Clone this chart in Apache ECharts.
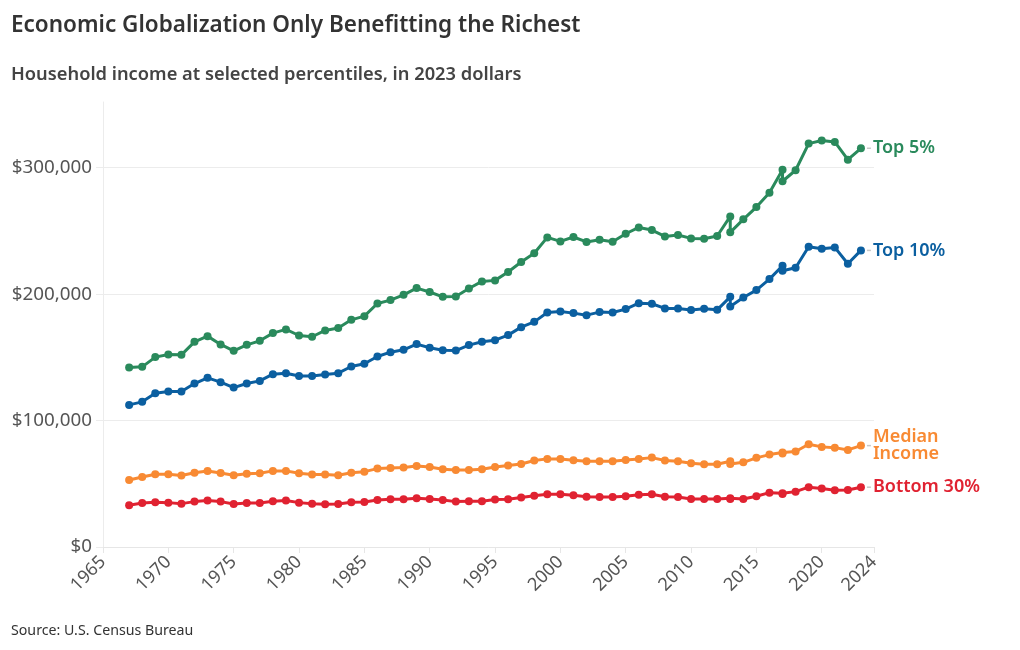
<!DOCTYPE html>
<html>
<head>
<meta charset="utf-8">
<script src="https://cdn.jsdelivr.net/npm/echarts@6/dist/echarts.min.js"></script>
<style>
  html, body { margin: 0; padding: 0; background: #fff; }
  #chart { width: 1020px; height: 650px; }
</style>
</head>
<body>
<div id="chart"></div>
<script>
// Years (2013 and 2017 appear twice: survey/processing changes)
const years = [1967, 1968, 1969,
  1970, 1971, 1972, 1973, 1974, 1975, 1976, 1977, 1978, 1979,
  1980, 1981, 1982, 1983, 1984, 1985, 1986, 1987, 1988, 1989,
  1990, 1991, 1992, 1993, 1994, 1995, 1996, 1997, 1998, 1999,
  2000, 2001, 2002, 2003, 2004, 2005, 2006, 2007, 2008, 2009,
  2010, 2011, 2012, 2013, 2013, 2014, 2015, 2016, 2017, 2017, 2018, 2019,
  2020, 2021, 2022, 2023];

// Values in thousands of 2023 dollars
const top5 = [142.0, 142.5, 150.2,
  152.3, 152.0, 162.3, 166.8, 160.2, 155.2, 159.9, 163.1, 169.2, 172.1,
  167.3, 166.3, 171.3, 173.2, 179.7, 182.6, 192.6, 195.3, 199.5, 204.8,
  201.7, 197.9, 198.2, 204.5, 210.1, 210.9, 217.5, 225.4, 232.3, 244.9,
  241.7, 245.2, 241.3, 243.1, 241.5, 247.8, 252.8, 250.7, 245.7, 246.8,
  244.1, 243.9, 246.0, 261.5, 248.9, 259.2, 268.9, 280.3, 298.5, 289.3, 298.0, 319.1,
  321.5, 320.4, 306.4, 315.4];

const top10 = [112.4, 114.8, 121.7,
  123.0, 123.0, 129.3, 133.8, 130.4, 126.1, 129.3, 131.4, 136.7, 137.5,
  135.2, 135.2, 136.4, 137.5, 142.8, 144.9, 150.7, 154.1, 156.0, 160.5,
  157.6, 155.7, 155.4, 159.7, 162.3, 163.6, 167.6, 173.9, 178.1, 185.5,
  186.3, 185.0, 183.4, 185.8, 185.5, 188.2, 192.9, 192.4, 188.7, 188.7,
  187.4, 188.4, 187.6, 197.9, 190.3, 197.4, 203.2, 211.9, 222.5, 218.5, 220.9, 237.5,
  236.0, 237.0, 224.1, 234.6];

const median = [53.0, 55.4, 57.5,
  57.5, 56.5, 58.8, 60.2, 58.6, 56.7, 58.0, 58.3, 60.2, 60.2,
  58.3, 57.3, 57.3, 56.7, 58.8, 59.6, 62.0, 62.5, 62.8, 64.1,
  63.3, 61.5, 61.0, 61.0, 61.5, 63.3, 64.4, 65.7, 68.4, 69.7,
  69.7, 68.6, 67.8, 67.8, 67.8, 68.9, 69.7, 70.7, 68.4, 67.8,
  66.2, 65.5, 65.5, 67.8, 65.7, 67.0, 70.5, 73.1, 74.7, 74.0, 75.5, 81.3,
  79.2, 78.6, 76.8, 80.2];

const bottom30 = [33.0, 34.8, 35.4,
  35.1, 34.3, 35.9, 36.7, 35.9, 34.0, 34.8, 34.8, 36.2, 36.7,
  35.1, 34.3, 33.8, 34.0, 35.4, 35.6, 37.2, 37.7, 37.7, 38.5,
  38.0, 37.2, 35.9, 36.2, 36.2, 37.5, 37.7, 39.1, 40.6, 41.7,
  41.7, 40.9, 39.8, 39.6, 39.6, 40.1, 41.4, 41.7, 39.8, 39.6,
  38.0, 38.0, 38.0, 38.5, 38.0, 38.0, 40.1, 43.0, 42.5, 42.0, 43.8, 47.3,
  46.2, 44.9, 45.1, 47.3];

const seriesNames = ['Top 5%', 'Top 10%', 'Median\nIncome', 'Bottom 30%'];
const seriesColors = ['#2a8a5c', '#0b5fa0', '#f88a33', '#e02231'];
const seriesValues = [top5, top10, median, bottom30];

const FONT = '"Noto Sans", "Open Sans", sans-serif';

function buildData(vals) {
  return vals.map(function (v, i) { return [years[i], v * 1000]; });
}

const chart = echarts.init(document.getElementById('chart'), null, { renderer: 'canvas' });

chart.setOption({
  animation: false,
  backgroundColor: '#ffffff',
  title: [
    {
      text: 'Economic Globalization Only Benefitting the Richest',
      left: 11, top: 14, padding: 0,
      textStyle: { fontFamily: FONT, fontSize: 22.5, fontWeight: 600, color: '#333333' }
    },
    {
      text: 'Household income at selected percentiles, in 2023 dollars',
      left: 11, top: 66, padding: 0,
      textStyle: { fontFamily: FONT, fontSize: 18.3, fontWeight: 600, color: '#444444' }
    },
    {
      text: 'Source: U.S. Census Bureau',
      left: 11, top: 624, padding: 0,
      textStyle: { fontFamily: FONT, fontSize: 14.2, fontWeight: 'normal', color: '#333333' }
    }
  ],
  grid: { left: 103, right: 146, top: 102, bottom: 103, containLabel: false },
  xAxis: {
    type: 'value',
    min: 1965, max: 2024, interval: 5,
    axisLine: { show: true, lineStyle: { color: '#e6e6e6', width: 1 } },
    axisTick: { show: true, length: 6, lineStyle: { color: '#e6e6e6' } },
    splitLine: { show: false },
    axisLabel: {
      rotate: 45, margin: 12, color: '#555555', fontSize: 18, fontFamily: FONT,
      showMaxLabel: true, showMinLabel: true,
      formatter: function (v) { return String(v); }
    }
  },
  yAxis: {
    type: 'value',
    min: 0, max: 352000, interval: 100000,
    axisLine: { show: true, lineStyle: { color: '#ececec', width: 1 } },
    axisTick: { show: true, length: 7, lineStyle: { color: '#ececec' } },
    splitLine: { show: true, showMaxLine: false, lineStyle: { color: '#ececec', width: 1 } },
    axisLabel: {
      margin: 11, color: '#555555', fontSize: 18.8, fontFamily: FONT,
      showMaxLabel: false,
      formatter: function (v) { return '$' + v.toLocaleString('en-US'); }
    }
  },
  series: seriesValues.map(function (vals, k) {
    const last = vals.length - 1;
    return {
      name: seriesNames[k],
      type: 'line',
      data: buildData(vals),
      color: seriesColors[k],
      symbol: 'circle',
      symbolSize: 8,
      showAllSymbol: true,
      lineStyle: { width: 3, color: seriesColors[k] },
      itemStyle: { color: seriesColors[k] },
      endLabel: {
        show: true,
        distance: 12,
        formatter: function (p) { return p.seriesName; },
        color: seriesColors[k],
        fontFamily: FONT,
        fontSize: 18,
        fontWeight: 600,
        lineHeight: 17
      },
      markPoint: {
        silent: true,
        symbol: 'rect',
        symbolSize: [4, 1.5],
        symbolOffset: [8, 0],
        itemStyle: { color: '#c8c8c8' },
        label: { show: false },
        data: [{ coord: [years[last], vals[last] * 1000] }]
      },
      emphasis: { disabled: true },
      z: 10 - k
    };
  })
});
</script>
</body>
</html>
